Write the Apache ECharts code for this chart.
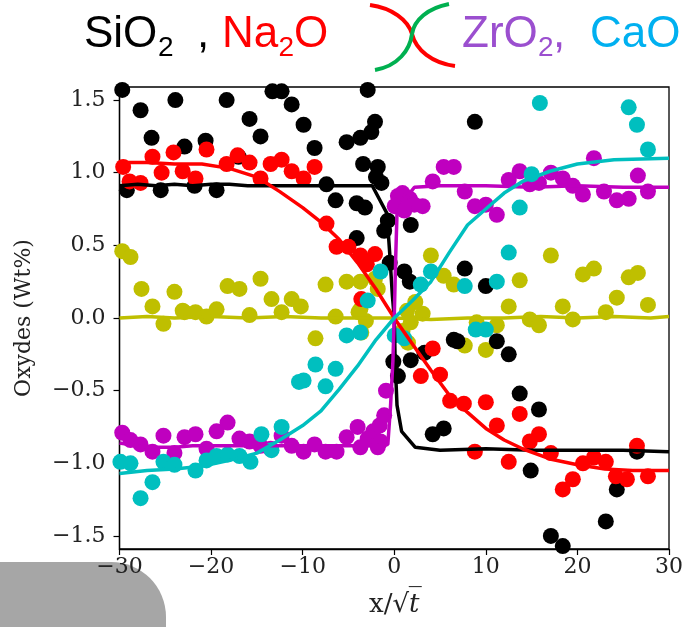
<!DOCTYPE html>
<html>
<head>
<meta charset="utf-8">
<script src="https://cdn.jsdelivr.net/npm/echarts@6/dist/echarts.min.js"></script>
<style>
  html, body { margin: 0; padding: 0; background: #fff; }
  #chart { width: 686px; height: 627px; }
</style>
</head>
<body>
<div id="chart"></div>
<script>
// measured points, [x/sqrt(t), wt%]
var sio2Points = [[-29.7,1.57],[-27.7,1.43],[-23.9,1.50],[-26.5,1.24],[-22.9,1.18],[-20.6,1.22],[-29.2,0.88],[-25.5,0.88],
  [-21.8,0.91],[-19.4,0.88],[-18.3,1.50],[-15.8,1.37],[-14.6,1.25],[-17.0,1.11],[-13.3,1.56],[-12.3,1.56],[-11.2,1.47],
  [-9.9,1.33],[-2.9,1.57],[-8.7,1.17],[-5.2,1.21],[-3.7,1.24],[-2.5,1.28],[-2.1,1.35],[-3.4,1.06],[-1.8,1.04],[-2.0,0.97],
  [-1.4,0.93],[-7.4,0.92],[-6.4,0.81],[-4.1,0.79],[-3.2,0.76],[-0.7,0.67],[-1.1,0.60],[1.8,0.64],[-4.1,0.55],[-0.5,0.38],
  [1.1,0.32],[1.7,0.25],[7.7,0.34],[8.8,1.35],[10.0,0.22],[6.5,-0.15],[1.8,-0.29],[3.3,-0.24],[0.4,-0.40],[-0.1,-0.30],
  [4.2,-0.80],[5.4,-0.76],[6.9,-0.16],[11.2,-0.16],[12.5,-0.25],[13.7,-0.52],[15.8,-0.63],[14.9,-1.05],[26.5,-0.92],
  [24.3,-1.18],[23.1,-1.40],[17.1,-1.50],[18.4,-1.57]];
var na2oPoints = [[-29.6,1.04],[-28.9,0.94],[-27.7,0.93],[-26.4,1.11],[-25.4,1.00],[-24.1,1.14],[-23.1,1.01],[-21.7,0.96],
  [-20.5,1.16],[-18.3,1.06],[-17.1,1.12],[-15.8,1.07],[-14.6,0.96],[-13.5,1.06],[-12.3,1.09],[-11.2,1.01],[-9.9,0.96],
  [-8.7,1.04],[-7.4,0.65],[-6.3,0.49],[-5.0,0.49],[-3.7,0.43],[-2.1,0.44],[-3.0,0.37],[-3.6,0.13],[4.2,-0.21],[2.9,-0.40],
  [5.0,-0.39],[6.1,-0.57],[7.6,-0.59],[8.8,-0.92],[10.0,-0.58],[11.2,-0.74],[13.7,-0.66],[14.8,-0.85],[15.8,-0.80],
  [12.5,-0.99],[17.1,-0.93],[19.5,-1.11],[18.4,-1.18],[20.6,-1.00],[21.8,-0.96],[23.1,-0.99],[24.2,-1.09],[25.4,-1.11],
  [26.5,-0.88],[27.7,-1.09]];
var zro2Points = [[5.4,1.04],[6.5,1.04],[4.2,0.94],[7.7,0.87],[8.8,0.77],[0.4,0.84],[0.9,0.86],[1.7,0.82],[0.05,0.77],
  [3.1,0.77],[2.2,0.78],[1.1,0.74],[10.0,0.78],[11.2,0.71],[12.5,0.95],[13.7,1.01],[14.8,0.92],[15.8,0.93],[17.1,1.00],
  [18.4,0.96],[19.5,0.91],[20.6,0.85],[21.8,1.10],[22.9,0.87],[24.3,0.81],[25.6,0.82],[26.6,0.98],[27.7,0.87],
  [-29.7,-0.79],[-28.8,-0.84],[-27.7,-0.87],[-26.4,-0.92],[-25.2,-0.81],[-24.0,-0.93],[-22.9,-0.82],[-21.7,-0.80],
  [-20.5,-0.90],[-19.4,-0.78],[-18.2,-0.72],[-16.9,-0.83],[-15.8,-0.85],[-14.6,-0.88],[-13.5,-0.90],[-12.3,-0.81],
  [-11.2,-0.88],[-9.9,-0.92],[-8.7,-0.87],[-7.5,-0.92],[-6.3,-0.92],[-5.2,-0.82],[-4.0,-0.75],[-3.7,-0.89],[-2.9,-0.83],
  [-2.3,-0.78],[-1.6,-0.74],[-1.8,-0.89],[-1.1,-0.67],[-0.9,-0.50],[-1.5,-0.85]];
var caoPoints = [[15.9,1.48],[25.6,1.45],[26.5,1.33],[27.7,1.16],[15.0,0.99],[13.7,0.76],[12.5,0.45],[11.2,0.25],[7.7,0.22],
  [4.0,0.32],[2.9,0.23],[-1.5,0.32],[-2.9,0.12],[-5.2,-0.12],[-3.7,-0.10],[-8.6,-0.32],[-6.4,-0.35],[-9.9,-0.43],
  [-7.5,-0.47],[0.05,-0.12],[1.1,-0.14],[-12.3,-0.75],[-28.8,-1.00],[-27.7,-1.24],[-26.4,-1.13],[-25.2,-0.99],
  [-24.0,-1.01],[-21.7,-1.05],[-20.5,-0.98],[-19.4,-0.95],[-18.2,-0.94],[-16.9,-0.95],[-15.7,-0.99],[-14.5,-0.80],
  [-13.4,-0.91],[-10.4,-0.44],[-29.9,-0.99],[8.9,-0.08],[10.0,-0.08]];
var oxPoints = [[-29.7,0.46],[-28.8,0.42],[-27.6,0.20],[-26.4,0.08],[-24.0,0.18],[-23.1,0.05],[-18.2,0.22],[-16.9,0.20],
  [-14.6,0.27],[-13.4,0.13],[-25.2,-0.04],[-22.9,0.04],[-21.7,0.04],[-20.5,0.01],[-19.4,0.06],[-15.8,0.02],[-12.3,0.04],
  [-11.2,0.13],[-10.2,0.08],[-7.5,0.23],[-5.2,0.25],[-3.7,0.25],[-2.1,0.27],[-1.8,0.20],[-3.7,0.06],[4.0,0.43],[5.4,0.29],
  [6.5,0.23],[2.3,0.11],[1.4,0.05],[-8.6,-0.14],[-6.4,0.01],[-3.9,0.04],[-3.1,-0.02],[-3.6,-0.10],[0.9,-0.09],[1.5,-0.17],
  [1.8,-0.03],[3.1,0.03],[7.7,-0.19],[13.7,0.26],[17.1,0.43],[20.6,0.30],[21.8,0.34],[25.6,0.28],[26.6,0.31],[24.3,0.14],
  [27.7,0.09],[12.5,0.08],[18.4,0.08],[23.1,0.04],[14.8,-0.01],[15.8,-0.05],[19.5,-0.01],[9.0,-0.03],[11.2,-0.05],[10.0,-0.22]];

// fitted profiles
var sio2Fit = [[-30,0.91],[-28,0.92],[-26,0.91],[-24,0.92],[-22,0.91],[-20,0.92],[-18,0.92],[-16,0.91],[-14,0.91],
  [-12,0.91],[-10,0.91],[-8,0.91],[-6,0.91],[-4,0.91],[-2.4,0.91],[-0.8,0.72],[-0.5,0.45],[-0.2,0.15],[0,0],
  [0.1,-0.3],[0.3,-0.6],[0.8,-0.78],[2.3,-0.89],[5,-0.91],[10,-0.9],[15,-0.91],[20,-0.91],[25,-0.91],[30,-0.92]];
var na2oFit = [[-30,1.07],[-27,1.07],[-24,1.06],[-21,1.06],[-18,1.03],[-15,0.97],[-12.5,0.87],[-10,0.76],[-8,0.66],
  [-6,0.54],[-4,0.38],[-2,0.2],[0,0],[2,-0.18],[4,-0.36],[6,-0.53],[8,-0.65],[10,-0.76],[12,-0.84],[14,-0.9],
  [17,-0.97],[20,-1.01],[23,-1.04],[26,-1.05],[30,-1.05]];
var zro2Fit = [[-30,-0.86],[-28,-0.88],[-26,-0.89],[-24,-0.89],[-22,-0.88],[-20,-0.88],[-18,-0.88],[-16,-0.88],
  [-14,-0.88],[-12,-0.88],[-10,-0.88],[-8,-0.88],[-6,-0.88],[-4,-0.88],[-2,-0.88],[-0.7,-0.87],[-0.4,-0.6],
  [-0.15,-0.3],[0,0],[0.15,0.4],[0.3,0.72],[1.2,0.82],[2.2,0.9],[5,0.91],[10,0.91],[15,0.9],[20,0.91],[25,0.9],[30,0.9]];
var caoFit = [[-30,-1.07],[-27,-1.05],[-24,-1.04],[-21,-1.02],[-18,-0.98],[-15,-0.93],[-12.5,-0.84],[-10,-0.74],
  [-8,-0.64],[-6,-0.49],[-4,-0.33],[-2,-0.15],[0,0],[2,0.12],[4,0.25],[6,0.45],[8,0.64],[10,0.75],[12,0.86],
  [14,0.94],[17,1.01],[20,1.06],[24,1.09],[30,1.1]];
var oxFit = [[-30,0],[-27,0.01],[-24,0],[-20,0.01],[-16,0],[-12,0.01],[-8,0],[-4,0],[0,0],[4,-0.01],[8,0],[12,0],
  [16,0.01],[20,0],[24,0.01],[28,0],[30,0.01]];

var yTicks = [-1.5, -1.0, -0.5, 0.0, 0.5, 1.0, 1.5];
var xTicks = [-30, -20, -10, 0, 10, 20, 30];

var colors = { sio2: '#000000', na2o: '#ff0000', zro2: '#bf00bf', cao: '#00bfbf', ox: '#bfbf00' };

function minus(s) { return String(s).replace('-', '\u2212'); }

function dots(data, color) {
  return { type: 'scatter', data: data, symbolSize: 16, z: 2,
    itemStyle: { color: color, opacity: 1 }, silent: true };
}
function fit(data, color) {
  return { type: 'line', data: data, showSymbol: false, z: 3,
    lineStyle: { color: color, width: 3.5 }, silent: true };
}

var chart = echarts.init(document.getElementById('chart'));

var titleFont = 'Liberation Sans, Arial, sans-serif';
function word(x, y, txt, size, color) {
  return { type: 'text', x: x, y: y, style: { text: txt, fill: color,
    font: size + 'px ' + titleFont, textVerticalAlign: 'middle' } };
}
function arc(p, color) {
  return { type: 'bezierCurve', shape: { x1: p[0], y1: p[1], cpx1: p[2], cpy1: p[3], cpx2: p[4], cpy2: p[5], x2: p[6], y2: p[7] },
    style: { stroke: color, lineWidth: 4, fill: null } };
}

chart.setOption({
  animation: false,
  backgroundColor: '#fff',
  grid: { left: 119.5, right: 12, top: 87, bottom: 78, show: true, borderColor: '#000', borderWidth: 1.3 },
  xAxis: {
    type: 'value', min: -30, max: 30, interval: 10,
    axisLine: { show: true, onZero: false, lineStyle: { color: '#000', width: 1.3 } },
    axisTick: { show: true, length: 6, lineStyle: { color: '#000', width: 1.2 } },
    axisLabel: { fontFamily: 'DejaVu Serif', fontSize: 22, color: '#222', margin: 7,
      customValues: xTicks, formatter: function (v) { return minus(v); } },
    splitLine: { show: false },
    name: '{a|x/\u221A}{b|t\u0305}', nameLocation: 'middle', nameGap: 43,
    nameTextStyle: { rich: {
      a: { fontFamily: 'DejaVu Serif', fontSize: 26, color: '#222' },
      b: { fontFamily: 'DejaVu Serif', fontStyle: 'italic', fontSize: 26, color: '#222' } } }
  },
  yAxis: {
    type: 'value', min: -1.59, max: 1.59,
    axisLine: { show: true, onZero: false, lineStyle: { color: '#000', width: 1.3 } },
    axisTick: { show: true, length: 6, customValues: yTicks, lineStyle: { color: '#000', width: 1.2 } },
    axisLabel: { fontFamily: 'DejaVu Serif', fontSize: 22, color: '#222', margin: 14,
      customValues: yTicks, formatter: function (v) { return minus(v.toFixed(1)); } },
    splitLine: { show: false },
    name: 'Oxydes (Wt%)', nameLocation: 'middle', nameGap: 84,
    nameTextStyle: { fontFamily: 'DejaVu Serif', fontSize: 22, color: '#222' }
  },
  series: [
    dots(oxPoints, colors.ox), dots(sio2Points, colors.sio2), dots(na2oPoints, colors.na2o),
    dots(zro2Points, colors.zro2), dots(caoPoints, colors.cao),
    fit(oxFit, colors.ox), fit(sio2Fit, colors.sio2), fit(na2oFit, colors.na2o),
    fit(zro2Fit, colors.zro2), fit(caoFit, colors.cao)
  ],
  graphic: [
    word(84, 35, 'SiO', 44, '#000'), word(158, 48, '2', 28, '#000'), word(197, 35, ',', 44, '#000'),
    word(222, 35, 'Na', 44, '#ff0000'), word(278.5, 48, '2', 28, '#ff0000'), word(294, 35, 'O', 44, '#ff0000'),
    word(462, 35, 'ZrO', 44, '#9b4fcf'), word(538, 48, '2', 28, '#9b4fcf'), word(553, 35, ',', 44, '#9b4fcf'),
    word(590, 35, 'CaO', 44, '#00b0f0'),
    arc([370, 5, 392, 8, 408, 20, 412, 34], '#ff0000'),
    arc([412, 34, 416, 50, 432, 63, 455, 66], '#ff0000'),
    arc([449, 4, 428, 8, 414, 20, 412, 34], '#00b050'),
    arc([412, 34, 410, 50, 398, 66, 375, 70], '#00b050'),
    { type: 'rect', shape: { x: -10, y: 562, width: 176, height: 80, r: [0, 55, 0, 0] },
      style: { fill: '#a6a6a6' } }
  ]
});
</script>
</body>
</html>
